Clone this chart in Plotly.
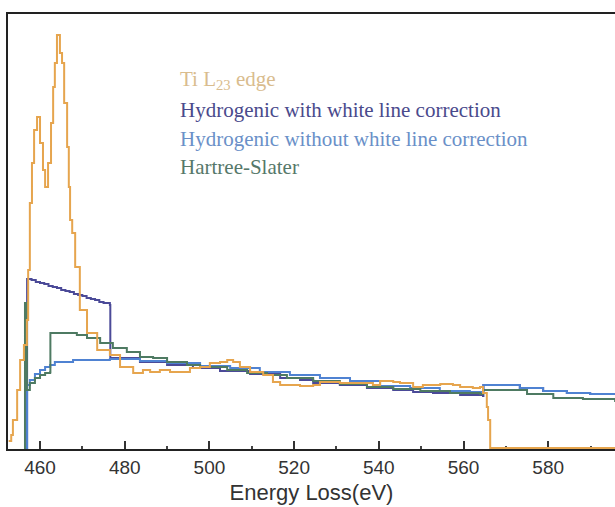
import plotly.graph_objects as go

# Energy loss (eV) and intensity (arbitrary units)
ti_x = [452.6, 453.2, 453.6, 454.6, 455.3, 456.2, 456.9, 457.2, 457.6, 458.1, 458.6, 459.3,
        460.0, 460.7, 461.2, 461.9, 462.6, 463.1, 463.5, 464.0, 464.7, 465.2, 465.7, 466.4,
        466.8, 467.1, 467.6, 468.3, 469.4, 471.1, 473.5, 476.5, 478.9, 482.0, 484.3, 486.0,
        488.3, 490.7, 493.1, 495.4, 497.8, 500.1, 502.5, 504.2, 505.6, 507.2, 509.6, 512.7,
        515.0, 516.7, 521.4, 524.5, 526.1, 530.8, 534.9, 538.6, 540.3, 543.4, 545.0, 548.1,
        550.4, 554.5, 557.5, 559.2, 562.2, 563.9, 564.6, 565.5, 565.8, 566.3, 580.0, 595.8]
ti_y = [10, 16, 31, 61, 91, 106, 131, 181, 248, 288, 321, 334,
        308, 281, 264, 288, 328, 364, 388, 416, 398, 388, 348, 304,
        264, 231, 218, 184, 141, 118, 101, 96, 84, 78, 81, 79,
        81, 79, 79, 83, 84, 88, 89, 91, 89, 84, 79, 76,
        69, 66, 65, 66, 69, 68, 68, 66, 70, 69, 68, 64,
        66, 67, 66, 64, 63, 64, 58, 44, 31, 3, 3, 3]

hw_x = [456.9, 456.95, 458.0, 459.0, 460.0, 461.0, 462.0, 463.0, 464.0, 465.0, 466.0, 467.0,
        468.0, 469.0, 470.0, 471.0, 472.0, 473.0, 474.0, 475.0, 476.5,
        476.6, 483.6, 490.0, 496.1, 502.5, 509.6, 516.7, 521.4, 524.5, 530.8, 537.2, 543.4,
        548.1, 552.8, 559.2, 564.6, 564.7, 568.6, 573.3, 578.8, 584.4, 589.9, 595.8]
hw_y = [2, 172, 171, 169, 168, 167, 165, 164, 163, 161, 160, 159,
        157, 156, 155, 153, 152, 151, 149, 148, 146,
        93, 89, 86, 83, 80, 77, 73, 71, 68, 66, 63, 61,
        59, 58, 56, 55, 66, 66, 63, 60, 58, 57, 56]

hn_x = [456.9, 456.95, 457.6, 458.8, 460.0, 461.2, 462.4, 463.5, 467.8, 476.5, 483.6, 490.0,
        497.8, 504.9, 511.9, 519.0, 526.1, 533.2, 540.3, 547.4, 554.4, 561.5, 564.6, 564.7,
        568.6, 573.3, 578.8, 584.4, 589.9, 595.8]
hn_y = [2, 66, 71, 77, 81, 84, 86, 89, 91, 92, 90, 88,
        85, 83, 79, 76, 73, 70, 65, 63, 60, 59, 59, 66,
        66, 63, 60, 58, 57, 56]

hs_x = [456.4, 456.45, 456.9, 457.6, 458.8, 460.0, 461.2, 462.4, 462.45, 468.7, 471.1, 474.2,
        477.2, 480.5, 483.6, 486.7, 490.0, 494.7, 497.8, 504.2, 508.9, 513.6, 518.3, 524.5,
        530.8, 537.2, 543.4, 549.8, 556.8, 563.9, 564.6, 575.0, 581.2, 588.2, 595.8]
hs_y = [2, 148, 61, 68, 73, 76, 78, 79, 118, 116, 113, 108,
        103, 99, 94, 93, 89, 86, 84, 81, 78, 76, 73, 70,
        67, 64, 62, 60, 58, 57, 61, 57, 53, 52, 49]

labels = ["Ti L<sub>23</sub> edge", "Hydrogenic with white line correction",
          "Hydrogenic without white line correction", "Hartree-Slater"]
tick_vals = [460, 480, 500, 520, 540, 560, 580]

c_ti, c_hw, c_hn, c_hs = "#E6A54E", "#4B4A98", "#4F82D2", "#4E7A62"
t_ti, t_hw, t_hn, t_hs = "#D9BC8E", "#4A4A8C", "#6A90C8", "#56786A"

fig = go.Figure()
fig.add_trace(go.Scatter(x=hw_x, y=hw_y, mode="lines", line=dict(color=c_hw, width=2, shape="hv")))
fig.add_trace(go.Scatter(x=hn_x, y=hn_y, mode="lines", line=dict(color=c_hn, width=2, shape="hv")))
fig.add_trace(go.Scatter(x=hs_x, y=hs_y, mode="lines", line=dict(color=c_hs, width=2, shape="hv")))
fig.add_trace(go.Scatter(x=ti_x, y=ti_y, mode="lines", line=dict(color=c_ti, width=2, shape="hv")))

ys = [0.848, 0.779, 0.713, 0.648]
for lab, col, yy in zip(labels, [t_ti, t_hw, t_hn, t_hs], ys):
    fig.add_annotation(x=0.280, y=yy, xref="paper", yref="paper", text=lab, showarrow=False,
                       xanchor="left", yanchor="middle",
                       font=dict(family="Liberation Serif", size=21, color=col))

fig.update_layout(
    width=615, height=507, margin=dict(l=8, r=0, t=14, b=58),
    paper_bgcolor="white", plot_bgcolor="white", showlegend=False,
    xaxis=dict(range=[452.44, 595.77], tickvals=tick_vals, ticks="inside", ticklen=8,
               tickwidth=2, tickcolor="#333", showline=True, linecolor="#222", linewidth=2,
               mirror=True, showgrid=False, zeroline=False, layer="below traces",
               tickfont=dict(family="Liberation Sans", size=19, color="#333"),
               minor=dict(ticks="inside", ticklen=3, tickwidth=2, tickcolor="#444",
                          tick0=450, dtick=10, showgrid=False),
               title=dict(text="Energy Loss(eV)", standoff=8,
                          font=dict(family="Liberation Sans", size=22, color="#333"))),
    yaxis=dict(range=[2, 437], showticklabels=False, ticks="", showline=True,
               linecolor="#222", linewidth=2, showgrid=False, zeroline=False),
)

fig.write_html("out.html")
